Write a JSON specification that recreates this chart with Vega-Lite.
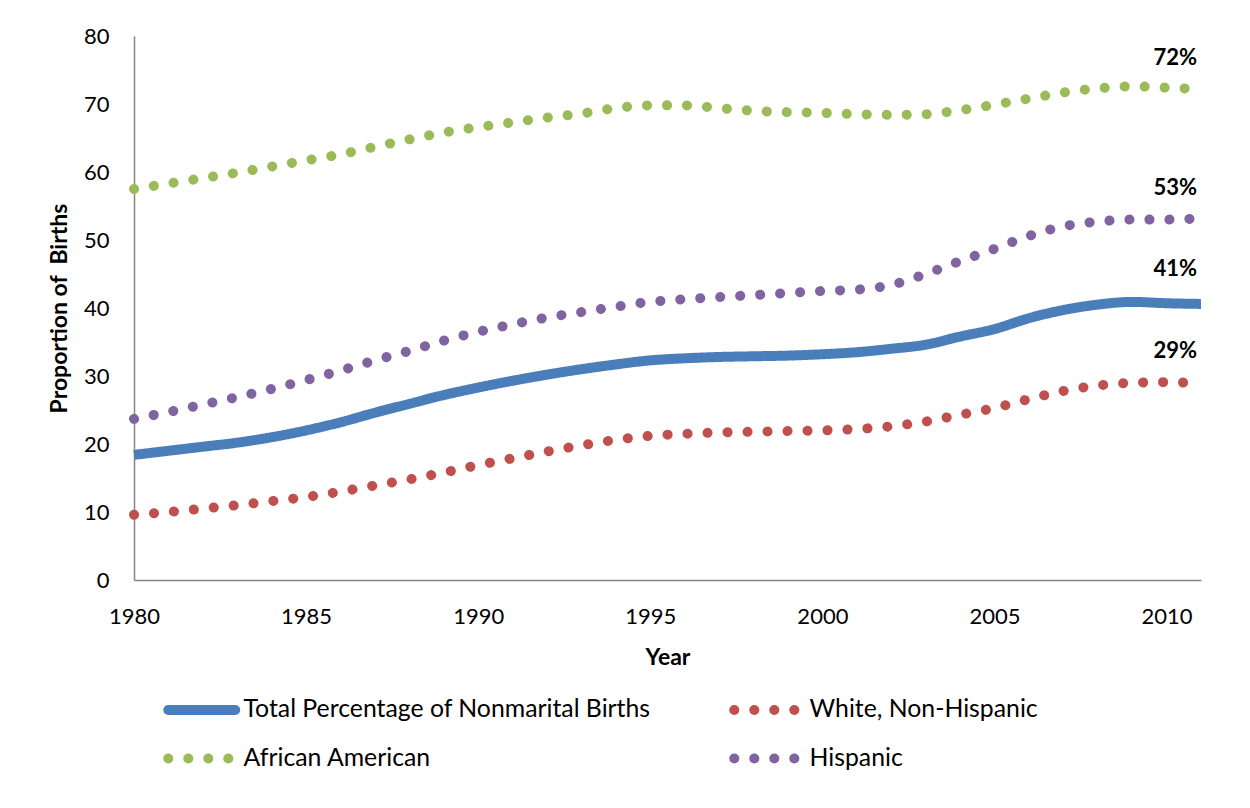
{
  "$schema": "https://vega.github.io/schema/vega-lite/v6.json",
  "width": 1067,
  "height": 544,
  "autosize": {"type": "none"},
  "padding": {"left": 134, "top": 36, "right": 49, "bottom": 228},
  "background": "white",
  "config": {
    "view": {"stroke": null},
    "font": "Lato",
    "axis": {
      "domainColor": "#868686",
      "domainWidth": 1.5,
      "ticks": false,
      "tickSize": 0,
      "grid": false,
      "labelFont": "Lato",
      "labelFontSize": 22,
      "labelColor": "black",
      "titleFont": "Lato",
      "titleFontSize": 23,
      "titleFontWeight": "bold",
      "titleColor": "black"
    },
    "legend": {
      "orient": "none",
      "direction": "horizontal",
      "legendX": 45.75,
      "legendY": 652,
      "columns": 2,
      "columnPadding": 63,
      "rowPadding": 6.5,
      "labelFont": "Lato",
      "labelFontSize": 24.8,
      "labelColor": "black",
      "labelLimit": 0,
      "labelOffset": 19.75,
      "symbolType": "M-2,0L2,0",
      "symbolSize": 1122,
      "symbolStrokeWidth": 10,
      "padding": 0,
      "title": null
    }
  },
  "datasets": {
    "series": [
      {"year": 1980, "Total Percentage of Nonmarital Births": 18.4, "White, Non-Hispanic": 9.6, "African American": 57.5, "Hispanic": 23.7},
      {"year": 1981, "Total Percentage of Nonmarital Births": 19.0, "White, Non-Hispanic": 10.0, "African American": 58.3, "Hispanic": 24.7},
      {"year": 1982, "Total Percentage of Nonmarital Births": 19.6, "White, Non-Hispanic": 10.5, "African American": 59.1, "Hispanic": 25.8},
      {"year": 1983, "Total Percentage of Nonmarital Births": 20.2, "White, Non-Hispanic": 11.0, "African American": 59.9, "Hispanic": 26.9},
      {"year": 1984, "Total Percentage of Nonmarital Births": 21.0, "White, Non-Hispanic": 11.6, "African American": 60.8, "Hispanic": 28.1},
      {"year": 1985, "Total Percentage of Nonmarital Births": 22.0, "White, Non-Hispanic": 12.2, "African American": 61.7, "Hispanic": 29.4},
      {"year": 1986, "Total Percentage of Nonmarital Births": 23.2, "White, Non-Hispanic": 13.0, "African American": 62.6, "Hispanic": 30.8},
      {"year": 1987, "Total Percentage of Nonmarital Births": 24.6, "White, Non-Hispanic": 13.9, "African American": 63.7, "Hispanic": 32.3},
      {"year": 1988, "Total Percentage of Nonmarital Births": 25.9, "White, Non-Hispanic": 14.8, "African American": 64.8, "Hispanic": 33.7},
      {"year": 1989, "Total Percentage of Nonmarital Births": 27.2, "White, Non-Hispanic": 15.8, "African American": 65.8, "Hispanic": 35.2},
      {"year": 1990, "Total Percentage of Nonmarital Births": 28.3, "White, Non-Hispanic": 16.9, "African American": 66.6, "Hispanic": 36.5},
      {"year": 1991, "Total Percentage of Nonmarital Births": 29.3, "White, Non-Hispanic": 17.9, "African American": 67.3, "Hispanic": 37.6},
      {"year": 1992, "Total Percentage of Nonmarital Births": 30.2, "White, Non-Hispanic": 18.9, "African American": 68.0, "Hispanic": 38.6},
      {"year": 1993, "Total Percentage of Nonmarital Births": 31.0, "White, Non-Hispanic": 19.8, "African American": 68.6, "Hispanic": 39.4},
      {"year": 1994, "Total Percentage of Nonmarital Births": 31.7, "White, Non-Hispanic": 20.6, "African American": 69.4, "Hispanic": 40.2},
      {"year": 1995, "Total Percentage of Nonmarital Births": 32.3, "White, Non-Hispanic": 21.2, "African American": 69.8, "Hispanic": 40.9},
      {"year": 1996, "Total Percentage of Nonmarital Births": 32.6, "White, Non-Hispanic": 21.5, "African American": 69.8, "Hispanic": 41.3},
      {"year": 1997, "Total Percentage of Nonmarital Births": 32.8, "White, Non-Hispanic": 21.7, "African American": 69.4, "Hispanic": 41.6},
      {"year": 1998, "Total Percentage of Nonmarital Births": 32.9, "White, Non-Hispanic": 21.8, "African American": 69.0, "Hispanic": 41.9},
      {"year": 1999, "Total Percentage of Nonmarital Births": 33.0, "White, Non-Hispanic": 21.9, "African American": 68.8, "Hispanic": 42.2},
      {"year": 2000, "Total Percentage of Nonmarital Births": 33.2, "White, Non-Hispanic": 22.0, "African American": 68.7, "Hispanic": 42.5},
      {"year": 2001, "Total Percentage of Nonmarital Births": 33.5, "White, Non-Hispanic": 22.2, "African American": 68.5, "Hispanic": 42.7},
      {"year": 2002, "Total Percentage of Nonmarital Births": 34.0, "White, Non-Hispanic": 22.6, "African American": 68.4, "Hispanic": 43.4},
      {"year": 2003, "Total Percentage of Nonmarital Births": 34.6, "White, Non-Hispanic": 23.3, "African American": 68.5, "Hispanic": 45.0},
      {"year": 2004, "Total Percentage of Nonmarital Births": 35.8, "White, Non-Hispanic": 24.3, "African American": 69.1, "Hispanic": 46.9},
      {"year": 2005, "Total Percentage of Nonmarital Births": 36.9, "White, Non-Hispanic": 25.3, "African American": 69.9, "Hispanic": 48.7},
      {"year": 2006, "Total Percentage of Nonmarital Births": 38.5, "White, Non-Hispanic": 26.6, "African American": 70.8, "Hispanic": 50.6},
      {"year": 2007, "Total Percentage of Nonmarital Births": 39.7, "White, Non-Hispanic": 27.8, "African American": 71.7, "Hispanic": 52.0},
      {"year": 2008, "Total Percentage of Nonmarital Births": 40.5, "White, Non-Hispanic": 28.6, "African American": 72.3, "Hispanic": 52.7},
      {"year": 2009, "Total Percentage of Nonmarital Births": 40.9, "White, Non-Hispanic": 29.0, "African American": 72.6, "Hispanic": 53.0},
      {"year": 2010, "Total Percentage of Nonmarital Births": 40.7, "White, Non-Hispanic": 29.1, "African American": 72.4, "Hispanic": 53.0},
      {"year": 2011, "Total Percentage of Nonmarital Births": 40.6, "White, Non-Hispanic": 28.9, "African American": 72.2, "Hispanic": 53.2}
    ],
    "labels": [
      {"year": 2011, "value": 72, "label": "72%"},
      {"year": 2011, "value": 53, "label": "53%"},
      {"year": 2011, "value": 41, "label": "41%"},
      {"year": 2011, "value": 29, "label": "29%"}
    ]
  },
  "layer": [
    {
      "data": {"name": "series"},
      "transform": [
        {"fold": ["Total Percentage of Nonmarital Births", "White, Non-Hispanic", "African American", "Hispanic"], "as": ["group", "pct"]},
        {"filter": "datum.group !== 'Total Percentage of Nonmarital Births'"}
      ],
      "mark": {"type": "line", "strokeWidth": 10, "strokeCap": "round", "interpolate": "monotone"},
      "encoding": {
        "x": {
          "field": "year", "type": "quantitative",
          "scale": {"domain": [1980, 2011], "nice": false, "zero": false},
          "axis": {"values": [1980, 1985, 1990, 1995, 2000, 2005, 2010], "format": "d", "labelPadding": 26, "labelFlush": false, "title": "Year", "titlePadding": 19}
        },
        "y": {
          "field": "pct", "type": "quantitative",
          "scale": {"domain": [0, 80], "nice": false},
          "axis": {"values": [0, 10, 20, 30, 40, 50, 60, 70, 80], "labelPadding": 25, "title": "Proportion of\u00a0\u00a0Births", "titlePadding": 12}
        },
        "color": {
          "field": "group", "type": "nominal",
          "scale": {
            "domain": ["Total Percentage of Nonmarital Births", "White, Non-Hispanic", "African American", "Hispanic"],
            "range": ["#4A7EBB", "#C0504D", "#9BBB59", "#8064A2"]
          },
          "legend": {"title": null, "encode": {"symbols": {"update": {"strokeCap": {"value": "round"}}}}}
        },
        "strokeDash": {
          "field": "group", "type": "nominal",
          "scale": {
            "domain": ["Total Percentage of Nonmarital Births", "White, Non-Hispanic", "African American", "Hispanic"],
            "range": [[1, 0], [0.1, 19.9], [0.1, 19.9], [0.1, 19.9]]
          },
          "legend": {"title": null, "encode": {"symbols": {"update": {"strokeCap": {"value": "round"}}}}}
        }
      }
    },
    {
      "data": {"name": "series"},
      "transform": [
        {"fold": ["Total Percentage of Nonmarital Births", "White, Non-Hispanic", "African American", "Hispanic"], "as": ["group", "pct"]},
        {"filter": "datum.group === 'Total Percentage of Nonmarital Births'"}
      ],
      "mark": {"type": "line", "strokeWidth": 10, "strokeCap": "butt", "interpolate": "monotone"},
      "encoding": {
        "x": {"field": "year", "type": "quantitative"},
        "y": {"field": "pct", "type": "quantitative"},
        "color": {"field": "group", "type": "nominal"},
        "strokeDash": {"field": "group", "type": "nominal"}
      }
    },
    {
      "data": {"name": "labels"},
      "mark": {"type": "text", "align": "right", "baseline": "middle", "dx": -4, "dy": -32, "font": "Lato", "fontSize": 22, "fontWeight": "bold", "color": "black"},
      "encoding": {
        "x": {"field": "year", "type": "quantitative"},
        "y": {"field": "value", "type": "quantitative"},
        "text": {"field": "label", "type": "nominal"}
      }
    }
  ]
}
